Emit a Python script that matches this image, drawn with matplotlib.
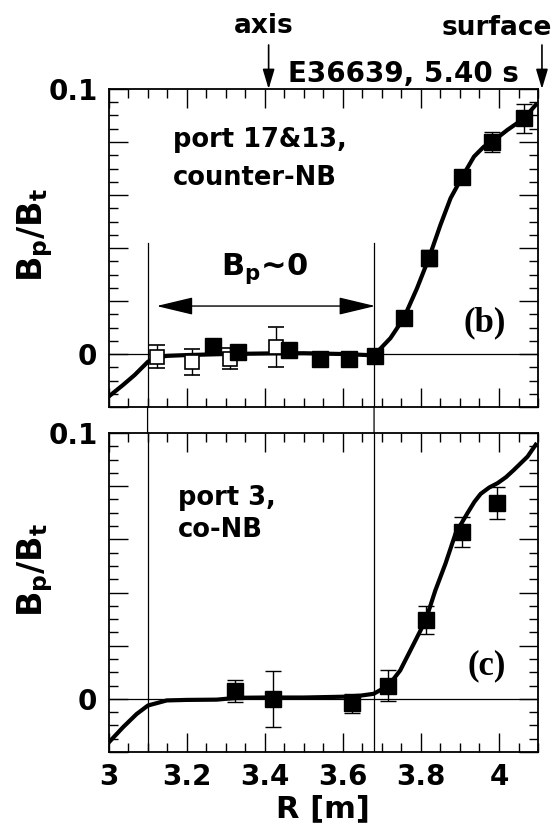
import numpy as np
import matplotlib.pyplot as plt
from matplotlib.ticker import MultipleLocator, FuncFormatter
from matplotlib.patches import ConnectionPatch

plt.rcParams['font.family'] = 'DejaVu Sans'
plt.rcParams['font.weight'] = 'bold'
plt.rcParams['axes.labelweight'] = 'bold'
plt.rcParams['mathtext.fontset'] = 'dejavusans'
plt.rcParams['mathtext.default'] = 'bf'

# (b) port 17&13, counter-NB : fitted profile
r_fit_b = [3.00, 3.037, 3.067, 3.101, 3.125, 3.15, 3.20, 3.30, 3.40, 3.50, 3.60,
           3.68, 3.722, 3.756, 3.79, 3.82, 3.85, 3.876, 3.906, 3.936, 3.961,
           3.983, 4.021, 4.064, 4.094]
bp_fit_b = [-0.0161, -0.0117, -0.0079, -0.0029, -0.0012, -0.0007, -0.0004, 0.0,
            0.0002, 0.0003, 0.0, -0.0005, 0.006, 0.0135, 0.0248, 0.036, 0.0487,
            0.0588, 0.0669, 0.0745, 0.0782, 0.0801, 0.0845, 0.0889, 0.094]

# (b) measured points, open and filled symbols
r_open_b = [3.123, 3.213, 3.31, 3.43]
bp_open_b = [-0.001, -0.003, -0.0017, 0.0027]
err_open_b = [0.0043, 0.005, 0.004, 0.0076]

r_fill_b = [3.268, 3.332, 3.461, 3.542, 3.615, 3.683, 3.756, 3.82, 3.906, 3.983, 4.064]
bp_fill_b = [0.003, 0.0009, 0.0015, -0.0017, -0.0017, -0.0008, 0.0135, 0.0361,
             0.0669, 0.0801, 0.0889]
err_fill_b = [0.0025, 0.0025, 0.002, 0.002, 0.002, 0.002, 0.002, 0.003, 0.002,
              0.0038, 0.0056]

# (c) port 3, co-NB : fitted profile
r_fit_c = [3.00, 3.037, 3.072, 3.101, 3.149, 3.20, 3.277, 3.33, 3.40, 3.50, 3.60,
           3.645, 3.679, 3.717, 3.747, 3.782, 3.812, 3.837, 3.863, 3.889, 3.919,
           3.937, 3.953, 3.975, 3.996, 4.018, 4.038, 4.073, 4.094]
bp_fit_c = [-0.0165, -0.0107, -0.0057, -0.0025, -0.0006, -0.0004, -0.0003, 0.0004,
            0.0005, 0.0005, 0.0008, 0.0012, 0.0019, 0.005, 0.0107, 0.0208, 0.0295,
            0.0408, 0.0509, 0.0623, 0.0698, 0.0741, 0.0771, 0.0795, 0.0811, 0.0834,
            0.0861, 0.0911, 0.0956]

r_fill_c = [3.324, 3.422, 3.623, 3.717, 3.812, 3.906, 3.996]
bp_fill_c = [0.003, 0.0, -0.0017, 0.005, 0.0297, 0.0628, 0.0737]
err_fill_c = [0.004, 0.0105, 0.0035, 0.0057, 0.0053, 0.0055, 0.006]

r_inner, r_outer = 3.10, 3.68
r_axis, r_surface = 3.41, 4.11

fig = plt.figure(figsize=(5.6, 8.38), dpi=100)
ax_b = fig.add_axes([0.1938, 0.5143, 0.767, 0.3795])
ax_c = fig.add_axes([0.1938, 0.1026, 0.767, 0.3807])


def ylab(v, pos):
    if abs(v) < 1e-9:
        return '0'
    if abs(v - 0.1) < 1e-9:
        return '0.1'
    return ''


for ax in (ax_b, ax_c):
    ax.set_xlim(3.0, 4.1)
    ax.set_ylim(-0.02, 0.1)
    ax.xaxis.set_major_locator(MultipleLocator(0.2))
    ax.xaxis.set_minor_locator(MultipleLocator(0.05))
    ax.yaxis.set_major_locator(MultipleLocator(0.02))
    ax.yaxis.set_minor_locator(MultipleLocator(0.005))
    ax.yaxis.set_major_formatter(FuncFormatter(ylab))
    ax.xaxis.set_major_formatter(FuncFormatter(lambda v, p: '%g' % round(v, 2)))
    ax.tick_params(which='both', direction='in', top=True, right=True,
                   width=1.0, labelsize=20, pad=8)
    ax.tick_params(which='major', length=14)
    ax.tick_params(which='minor', length=6.5)
    for s in ax.spines.values():
        s.set_linewidth(1.3)
    ax.axhline(0, color='k', lw=0.9, zorder=1)
    ax.set_ylabel(r'$B_p/B_t$', fontsize=24)

ax_b.tick_params(labelbottom=False)
ax_b.yaxis.set_label_coords(-0.125, 0.541)
ax_c.yaxis.set_label_coords(-0.125, 0.571)
ax_c.set_xlabel('R [m]', fontsize=22, labelpad=2)

# panel (b)
ax_b.plot(r_fit_b, bp_fit_b, color='k', lw=3, zorder=2, solid_joinstyle='round')
ax_b.errorbar(r_open_b, bp_open_b, yerr=err_open_b, fmt='s', ms=9.5, mfc='white',
              mec='k', mew=1.2, ecolor='k', elinewidth=1, capsize=6, capthick=1,
              zorder=3)
ax_b.errorbar(r_fill_b, bp_fill_b, yerr=err_fill_b, fmt='s', ms=11.5, mfc='k',
              mec='k', ecolor='k', elinewidth=1, capsize=6, capthick=1, zorder=3)
ax_b.plot([r_inner, r_inner], [0.042, -0.02], color='k', lw=0.9, zorder=1)
ax_b.plot([r_outer, r_outer], [0.042, -0.02], color='k', lw=0.9, zorder=1)
ax_b.annotate('', xy=(3.683, 0.0181), xytext=(3.123, 0.0181),
              arrowprops=dict(arrowstyle='<|-|>,head_length=2.3,head_width=0.55',
                              mutation_scale=10, color='k', lw=1,
                              shrinkA=0, shrinkB=0))
ax_b.text(3.40, 0.0298, r'$B_p$~0', fontsize=22, ha='center', va='baseline')
ax_b.text(3.165, 0.0781, 'port 17&13,', fontsize=18.5, ha='left', va='baseline')
ax_b.text(3.165, 0.0638, 'counter-NB', fontsize=18.5, ha='left', va='baseline')
ax_b.text(3.963, 0.0117, '(b)', fontsize=25, family='Liberation Serif',
          weight='bold', ha='center', va='center')

# markers above the frame
for r in (r_axis, r_surface):
    ax_b.annotate('', xy=(r, 0.1), xytext=(r, 0.1166), annotation_clip=False,
                  arrowprops=dict(arrowstyle='-|>,head_length=1.2,head_width=0.36',
                                  mutation_scale=10, color='k', lw=1.2,
                                  shrinkA=0, shrinkB=0))
ax_b.text(3.398, 0.1211, 'axis', fontsize=19, ha='center', va='baseline', clip_on=False)
ax_b.text(3.994, 0.1204, 'surface', fontsize=19, ha='center', va='baseline', clip_on=False)
ax_b.text(3.46, 0.1026, 'E36639, 5.40 s', fontsize=20, ha='left', va='baseline',
          clip_on=False)

# panel (c)
ax_c.plot(r_fit_c, bp_fit_c, color='k', lw=3, zorder=2, solid_joinstyle='round')
ax_c.errorbar(r_fill_c, bp_fill_c, yerr=err_fill_c, fmt='s', ms=11.5, mfc='k',
              mec='k', ecolor='k', elinewidth=1, capsize=6, capthick=1, zorder=3)
ax_c.axvline(r_inner, color='k', lw=0.9, zorder=1)
ax_c.axvline(r_outer, color='k', lw=0.9, zorder=1)
ax_c.text(3.178, 0.0729, 'port 3,', fontsize=18.5, ha='left', va='baseline')
ax_c.text(3.178, 0.0609, 'co-NB', fontsize=18.5, ha='left', va='baseline')
ax_c.text(3.968, 0.0126, '(c)', fontsize=25, family='Liberation Serif',
          weight='bold', ha='center', va='center')

# the two radii continue through the gap between the panels
for r in (r_inner, r_outer):
    con = ConnectionPatch(xyA=(r, -0.02), coordsA='data', axesA=ax_b,
                          xyB=(r, 0.1), coordsB='data', axesB=ax_c,
                          color='k', lw=0.9)
    fig.add_artist(con)

plt.savefig('out.png', dpi=100)
